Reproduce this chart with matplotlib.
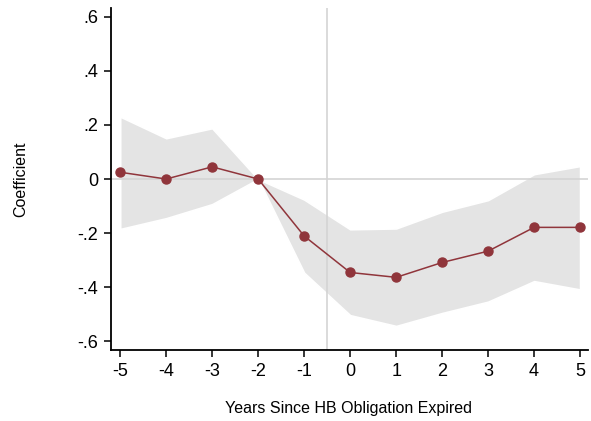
import matplotlib
matplotlib.use("Agg")
import matplotlib.pyplot as plt

years = [-5, -4, -3, -2, -1, 0, 1, 2, 3, 4, 5]
coef = [0.025, 0.0, 0.045, 0.0, -0.211, -0.346, -0.364, -0.309, -0.267, -0.179, -0.179]
ci_upper = [0.231, 0.151, 0.188, 0.0, -0.076, -0.186, -0.183, -0.121, -0.078, 0.018, 0.048]
ci_lower = [-0.185, -0.145, -0.093, 0.0, -0.347, -0.504, -0.544, -0.496, -0.454, -0.378, -0.409]
yticks = [-0.6, -0.4, -0.2, 0, 0.2, 0.4, 0.6]
ytick_labels = ["-.6", "-.4", "-.2", "0", ".2", ".4", ".6"]

plt.rcParams['font.family'] = ['Liberation Sans', 'DejaVu Sans']

fig = plt.figure(figsize=(5.91, 4.21), dpi=100)
ax = fig.add_axes([0.1878, 0.1686, 0.807, 0.8124])

ax.fill_between(years, ci_lower, ci_upper, color='#e4e4e4', edgecolor='white', linewidth=1.2, zorder=1)
ax.axhline(0, color='#d4d4d4', linewidth=1.2, zorder=2)
ax.axvline(-0.5, color='#d4d4d4', linewidth=1.2, zorder=2)
ax.plot(years, coef, color='#90353b', linewidth=1.1, marker='o', markersize=6.5, zorder=3)

ax.set_xlim(-5.2, 5.17)
ax.set_ylim(-0.633, 0.633)
ax.set_xticks(years)
ax.set_xticklabels([str(y) for y in years])
ax.set_yticks(yticks)
ax.set_yticklabels(ytick_labels)

for s in ['top', 'right']:
    ax.spines[s].set_visible(False)
for s in ['left', 'bottom']:
    ax.spines[s].set_linewidth(1.3)
    ax.spines[s].set_color('black')

ax.tick_params(axis='both', direction='out', length=5, width=1.1, labelsize=13, pad=4)

fig.text(0.035, 0.575, 'Coefficient', rotation=90, ha='center', va='center', fontsize=11.5)
fig.text(0.59, 0.03, 'Years Since HB Obligation Expired', ha='center', va='center', fontsize=11.5)

fig.savefig('out.png', dpi=100)
